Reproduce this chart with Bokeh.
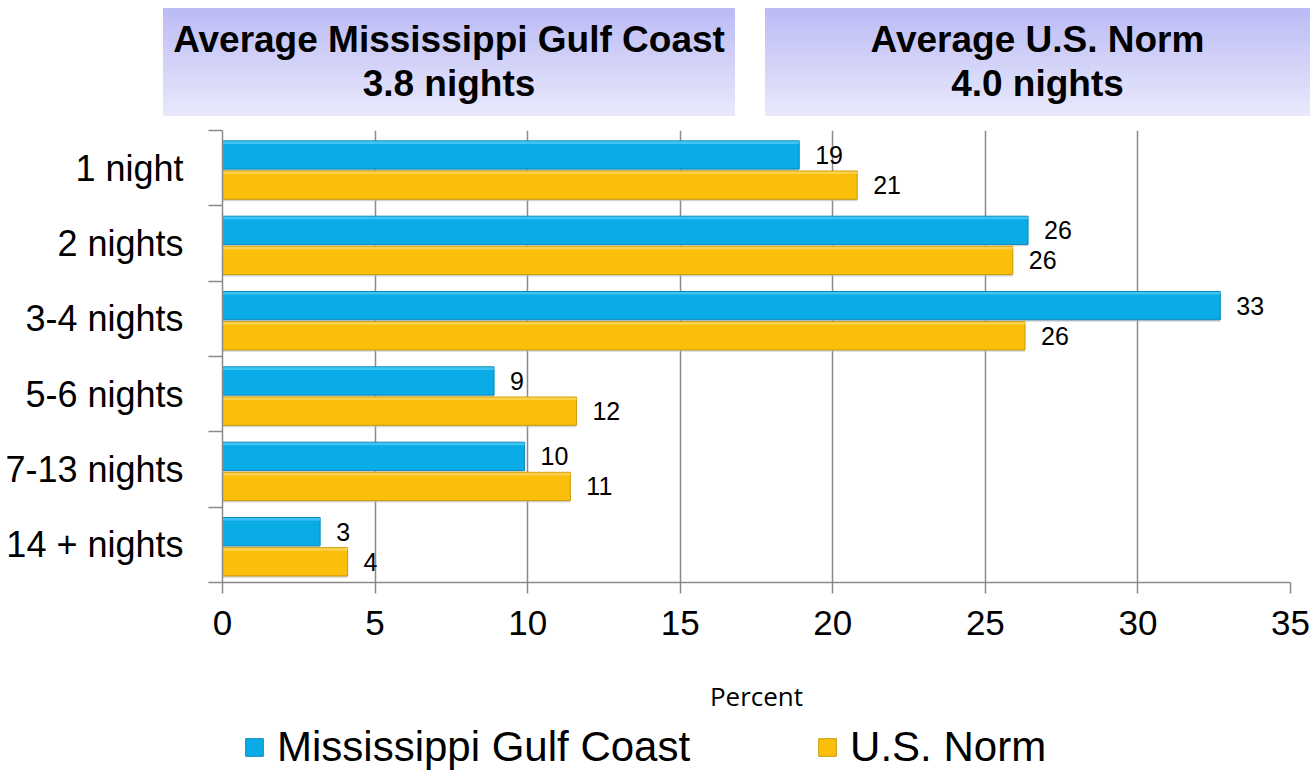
from bokeh.plotting import figure
from bokeh.models import FixedTicker, Legend, LegendItem, Div, ColumnDataSource, Range1d
from bokeh.layouts import column
from bokeh.transform import dodge
from bokeh.embed import file_html
from bokeh.resources import INLINE
from bokeh.core.properties import value

# ---------------- data ----------------
categories = ["1 night", "2 nights", "3-4 nights", "5-6 nights", "7-13 nights", "14 + nights"]
gulf_coast = [18.9, 26.4, 32.7, 8.9, 9.9, 3.2]
us_norm = [20.8, 25.9, 26.3, 11.6, 11.4, 4.1]
x_ticks = [0, 5, 10, 15, 20, 25, 30, 35]
series_names = ["Mississippi Gulf Coast", "U.S. Norm"]
header_titles = ["Average Mississippi Gulf Coast", "Average U.S. Norm"]
header_values = [3.8, 4.0]
x_axis_title = "Percent"

# ---------------- styles ----------------
BLUE = "#0AACE8"
BLUE_EDGE = "#0A88B8"
BLUE_HI = "#4CCBF5"
GOLD = "#FBBE0A"
GOLD_EDGE = "#C99A06"
GOLD_HI = "#FDD65A"
GRID = "#8A8A8A"
SANS = "Liberation Sans"

n = len(categories)
centers = [n - i - 0.5 for i in range(n)]
bounds = list(range(n + 1))

src = ColumnDataSource(dict(
    y=centers,
    gulf=gulf_coast,
    us=us_norm,
    gulf_lbl=[str(round(v)) for v in gulf_coast],
    us_lbl=[str(round(v)) for v in us_norm],
))

p = figure(width=1310, height=602, x_range=Range1d(0, 35), y_range=Range1d(0, n),
           output_backend="svg", toolbar_location=None,
           min_border_left=222, min_border_right=20, min_border_top=10, min_border_bottom=140)
p.outline_line_color = None
p.background_fill_color = "white"

OFF_B = 0.175
OFF_G = -0.225
H = 0.375
HI = 0.035

# subtle shadows
p.hbar(y=dodge("y", OFF_B - 0.025, range=p.y_range), left=0, right="gulf", height=H,
       fill_color="#B8B8B8", fill_alpha=0.6, line_color=None, source=src)
p.hbar(y=dodge("y", OFF_G - 0.025, range=p.y_range), left=0, right="us", height=H,
       fill_color="#B8B8B8", fill_alpha=0.6, line_color=None, source=src)

r1 = p.hbar(y=dodge("y", OFF_B, range=p.y_range), left=0, right="gulf", height=H,
            fill_color=BLUE, line_color=BLUE_EDGE, line_width=1, source=src)
r2 = p.hbar(y=dodge("y", OFF_G, range=p.y_range), left=0, right="us", height=H,
            fill_color=GOLD, line_color=GOLD_EDGE, line_width=1, source=src)

# bevel highlight along the top edge of each bar
p.hbar(y=dodge("y", OFF_B + H / 2 - HI / 2 - 0.006, range=p.y_range), left=0, right="gulf",
       height=HI, fill_color=BLUE_HI, fill_alpha=0.8, line_color=None, source=src)
p.hbar(y=dodge("y", OFF_G + H / 2 - HI / 2 - 0.006, range=p.y_range), left=0, right="us",
       height=HI, fill_color=GOLD_HI, fill_alpha=0.8, line_color=None, source=src)

p.text(x="gulf", y=dodge("y", OFF_B, range=p.y_range), text="gulf_lbl", x_offset=16,
       text_align="left", text_baseline="middle", text_font=value(SANS),
       text_font_size="25px", text_color="black", source=src)
p.text(x="us", y=dodge("y", OFF_G, range=p.y_range), text="us_lbl", x_offset=16,
       text_align="left", text_baseline="middle", text_font=value(SANS),
       text_font_size="25px", text_color="black", source=src)

# x axis
xa = p.xaxis[0]
xa.ticker = FixedTicker(ticks=x_ticks)
xa.axis_line_color = GRID
xa.axis_line_width = 1.5
xa.major_tick_line_color = GRID
xa.major_tick_line_width = 1.5
xa.major_tick_out = 11
xa.major_tick_in = 0
xa.minor_tick_line_color = None
xa.major_label_text_font = SANS
xa.major_label_text_font_size = "35px"
xa.major_label_text_color = "black"
xa.major_label_standoff = 17
xa.axis_label = x_axis_title
xa.axis_label_text_font = "Open Sans"
xa.axis_label_text_font_style = "normal"
xa.axis_label_text_font_size = "26px"
xa.axis_label_text_color = "black"
xa.axis_label_standoff = 40

# y axis
ya = p.yaxis[0]
ya.ticker = FixedTicker(ticks=centers, minor_ticks=bounds)
ya.major_label_overrides = {c: cat for c, cat in zip(centers, categories)}
ya.axis_line_color = GRID
ya.axis_line_width = 1.5
ya.major_tick_line_color = None
ya.major_tick_out = 0
ya.major_tick_in = 0
ya.minor_tick_line_color = GRID
ya.minor_tick_line_width = 1.5
ya.minor_tick_out = 14
ya.minor_tick_in = 0
ya.major_label_text_font = SANS
ya.major_label_text_font_size = "36px"
ya.major_label_text_color = "black"
ya.major_label_standoff = 25

p.xgrid.grid_line_color = GRID
p.xgrid.grid_line_width = 1.5
p.ygrid.grid_line_color = None

# legend strip (separate small figure so the legend is not clipped)
p2 = figure(width=1310, height=49, x_range=Range1d(0, 35), y_range=Range1d(0, n),
            output_backend="svg", toolbar_location=None,
            x_axis_location=None, y_axis_location=None, min_border=0)
p2.outline_line_color = None
p2.grid.visible = False
d1 = p2.hbar(y="y", left=0, right="gulf", height=H, fill_color=BLUE,
             line_color=BLUE_EDGE, source=src, visible=False)
d2 = p2.hbar(y="y", left=0, right="us", height=H, fill_color=GOLD,
             line_color=GOLD_EDGE, source=src, visible=False)
legend = Legend(items=[LegendItem(label=series_names[0], renderers=[d1]),
                       LegendItem(label=series_names[1], renderers=[d2])],
                location=(21, 0), orientation="horizontal",
                glyph_width=22, glyph_height=22, label_standoff=12, spacing=126,
                padding=0, margin=0, border_line_color=None, background_fill_alpha=0,
                label_text_font=SANS, label_text_font_size="42px", label_text_color="black")
p2.add_layout(legend)

# header boxes
box_style = ("position:absolute;top:8px;height:108px;"
             "background:linear-gradient(to bottom,#BBBBF5,#E9E9FC);"
             "display:flex;align-items:center;justify-content:center;text-align:center;"
             "font-family:'Liberation Sans',Arial,sans-serif;font-weight:bold;font-size:37px;"
             "line-height:44px;color:black;")
boxes = [(163, 572), (765, 545)]
html = '<div style="position:relative;width:1310px;height:120px;">'
for (left, w), t, v in zip(boxes, header_titles, header_values):
    html += (f'<div style="{box_style}left:{left}px;width:{w}px;">'
             f'<div>{t}<br>{v:.1f} nights</div></div>')
html += "</div>"
div = Div(text=html, width=1310, height=120, margin=(0, 0, 0, 0))

layout = column(div, p, p2, spacing=0)
open("out.html", "w").write(file_html(layout, INLINE))
